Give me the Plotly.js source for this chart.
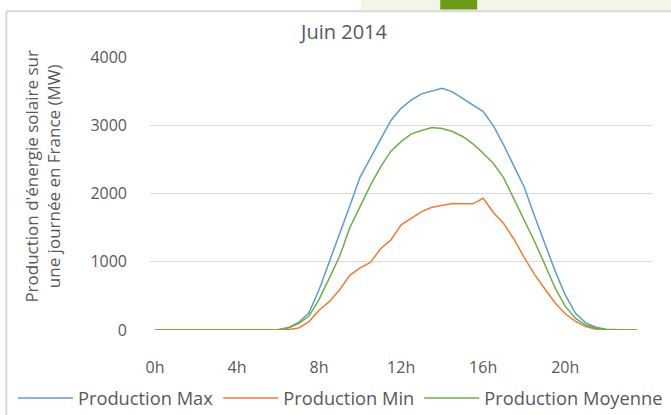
<!DOCTYPE html>
<html>
<head>
<meta charset="utf-8">
<script src="https://cdn.plot.ly/plotly-3.0.1.min.js"></script>
<style>html,body{margin:0;padding:0;background:#fff;}#chart{width:671px;height:415px;}</style>
</head>
<body>
<div id="chart"></div>
<script>
// Hours of the day (half-hour steps)
const hours = [0,0.5,1,1.5,2,2.5,3,3.5,4,4.5,5,5.5,6,6.5,7,7.5,8,8.5,9,9.5,10,10.5,11,11.5,12,12.5,13,13.5,14,14.5,15,15.5,16,16.5,17,17.5,18,18.5,19,19.5,20,20.5,21,21.5,22,22.5,23,23.5];
const prodMax = [0,0,0,0,0,0,0,0,0,0,0,0,5,35,110,250,590,1000,1400,1820,2240,2510,2780,3070,3250,3372,3460,3495,3540,3490,3397,3299,3201,2990,2710,2400,2095,1675,1285,870,513,245,105,40,10,0,0,0];
const prodMin = [0,0,0,0,0,0,0,0,0,0,0,0,0,5,30,120,290,415,590,800,910,990,1190,1320,1540,1637,1735,1799,1823,1852,1848,1848,1930,1721,1560,1330,1065,815,605,400,238,125,50,12,0,0,0,0];
const prodMoy = [0,0,0,0,0,0,0,0,0,0,0,0,5,30,95,200,450,760,1080,1500,1810,2120,2390,2620,2760,2874,2922,2966,2952,2908,2835,2727,2590,2440,2230,1920,1630,1300,965,620,350,170,73,25,5,0,0,0];
const seriesNames = ["Production Max","Production Min","Production Moyenne"];
const tickVals = [0,4,8,12,16,20];
const tickText = ["0h","4h","8h","12h","16h","20h"];
const yTicks = [0,1000,2000,3000,4000];

const FONT = "'Open Sans', 'Noto Sans', sans-serif";
const GREY = "#595959";

const traces = [
  {x: hours, y: prodMax, name: seriesNames[0], mode: "lines", line: {color: "#5B9BD5", width: 1.5}},
  {x: hours, y: prodMin, name: seriesNames[1], mode: "lines", line: {color: "#ED7D31", width: 1.5}},
  {x: hours, y: prodMoy, name: seriesNames[2], mode: "lines", line: {color: "#70AD47", width: 1.5}}
];

const layout = {
  width: 671, height: 415,
  margin: {l: 150, r: 18, t: 57, b: 85, autoexpand: false},
  paper_bgcolor: "#ffffff", plot_bgcolor: "#ffffff",
  font: {family: FONT, color: GREY, size: 16},
  title: {text: "Juin 2014", font: {family: FONT, size: 20, color: GREY}, x: 0.5127, xanchor: "center", xref: "container", y: 0.922, yanchor: "middle", yref: "container"},
  xaxis: {
    range: [-0.244, 24.28], tickvals: tickVals, ticktext: tickText,
    showgrid: false, zeroline: false, showline: false, ticks: "",
    ticklabelstandoff: 26, tickfont: {family: FONT, size: 16, color: GREY}, fixedrange: true
  },
  yaxis: {
    range: [0, 4000], tickvals: yTicks, showgrid: true, gridcolor: "#d9d9d9", gridwidth: 1.3,
    zeroline: false, showline: false, ticks: "", ticklabelstandoff: 22,
    tickfont: {family: FONT, size: 16, color: GREY}, fixedrange: true
  },
  showlegend: true,
  legend: {
    orientation: "h", x: -0.2725, xanchor: "left", y: -0.182, yanchor: "top",
    font: {family: FONT, size: 18.3, color: GREY}, bgcolor: "rgba(0,0,0,0)",
    itemwidth: 55, traceorder: "normal"
  },
  annotations: [{
    text: "Production d'énergie solaire sur<br>une journée en France (MW)",
    xref: "paper", yref: "paper", x: -0.213, y: 0.565, xanchor: "center", yanchor: "middle",
    textangle: -90, showarrow: false, font: {family: FONT, size: 17, color: GREY}
  }],
  shapes: [
    {type: "rect", xref: "paper", yref: "paper", x0: 0.42, x1: 1.05, y0: 1.170, y1: 1.215, fillcolor: "#f1f7e8", line: {width: 0}},
    {type: "rect", xref: "paper", yref: "paper", x0: 0.577, x1: 0.6505, y0: 1.174, y1: 1.215, fillcolor: "#6a9c1a", line: {width: 0}},
    {type: "line", xref: "paper", yref: "paper", x0: -0.2855, x1: 1.05, y0: 1.168, y1: 1.168, line: {color: "#d9d9d9", width: 2}},
    {type: "line", xref: "paper", yref: "paper", x0: -0.2855, x1: -0.2855, y0: -0.32, y1: 1.168, line: {color: "#d9d9d9", width: 2}}
  ]
};

Plotly.newPlot("chart", traces, layout, {displayModeBar: false, staticPlot: true});
</script>
</body>
</html>
